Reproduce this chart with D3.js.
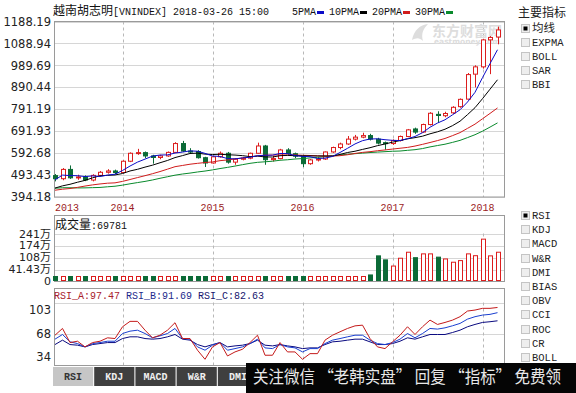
<!DOCTYPE html>
<html><head><meta charset="utf-8">
<script src="https://cdn.jsdelivr.net/npm/d3@7"></script>
<style>body{margin:0;background:#fff}svg{display:block}</style>
</head><body><svg id="c" width="576" height="393"></svg>
<script>
// ---------- DATA ----------
const months = ["2013-04","2013-05","2013-06","2013-07","2013-08","2013-09","2013-10","2013-11","2013-12",
"2014-01","2014-02","2014-03","2014-04","2014-05","2014-06","2014-07","2014-08","2014-09","2014-10","2014-11","2014-12",
"2015-01","2015-02","2015-03","2015-04","2015-05","2015-06","2015-07","2015-08","2015-09","2015-10","2015-11","2015-12",
"2016-01","2016-02","2016-03","2016-04","2016-05","2016-06","2016-07","2016-08","2016-09","2016-10","2016-11","2016-12",
"2017-01","2017-02","2017-03","2017-04","2017-05","2017-06","2017-07","2017-08","2017-09","2017-10","2017-11","2017-12",
"2018-01","2018-02","2018-03"];
const opens  = [491,477,519,481,485,471,492,506,512,505,556,592,595,580,573,580,596,636,602,600,572,548,576,592,552,565,570,592,625,563,568,607,590,579,545,562,566,598,618,634,656,665,672,656,640,636,650,668,702,688,722,768,762,775,803,837,950,983,1105,1118];
const highs  = [498,525,537,495,492,497,512,520,518,560,596,612,600,585,585,600,642,648,615,606,576,580,600,598,570,575,595,640,630,580,612,615,595,582,566,575,600,622,640,670,675,685,680,662,645,655,672,702,708,726,778,782,780,805,840,955,990,1110,1122,1165];
const lows   = [465,470,476,472,466,465,488,500,498,503,552,585,570,545,565,576,594,598,590,568,530,545,572,545,540,560,565,590,540,555,565,585,570,530,540,555,562,594,610,630,650,660,650,632,608,630,645,665,680,685,718,730,755,770,798,835,890,975,950,1085];
const closes = [477,519,481,485,471,492,506,512,505,556,592,595,580,573,580,596,636,602,600,572,548,576,592,552,565,570,592,625,563,568,607,590,579,545,562,566,598,618,634,656,665,672,656,638,636,650,668,698,688,722,773,763,772,800,836,948,983,1105,1116,1150];
const ma5  = [472,493.2,491.2,490.6,486.6,489.6,487,493.2,497.2,514.2,534.2,552,565.6,579.2,584,584.8,593,597.4,602.8,601.2,591.6,579.6,577.6,568,566.6,571,574.2,580.8,583,583.6,591,590.6,581.4,577.8,576.6,568.4,570,577.8,595.6,614.4,634.2,649,656.6,657.4,653.4,650.4,649.6,658,668,685.2,709.8,728.8,743.6,766,788.8,823.8,867.8,934.4,997.6,1060.4];
const ma10 = [434.6,444.6,451.7,461,469.4,480.8,490.1,492.2,493.9,500.4,511.9,519.5,529.4,538.2,549.1,559.5,572.5,581.5,591,592.6,588.2,586.3,587.5,585.4,583.9,581.3,576.9,579.2,575.5,575.1,581,582.4,581.1,580.4,580.1,579.7,580.3,579.6,586.7,595.5,601.3,609.5,617.2,626.5,633.9,642.3,649.3,657.3,662.7,669.3,680.1,689.2,700.8,717,737,766.8,798.3,839,881.8,924.6];
const ma20 = [424.9,429.4,432.5,437.7,443.7,448.9,453.2,456.6,458.2,464.8,473.3,482.1,490.6,499.6,509.3,520.2,531.3,536.9,542.5,546.5,550.1,552.9,558.5,561.8,566.5,570.4,574.7,580.4,583.3,583.9,584.6,584.4,584.3,582.9,582,580.5,578.6,579.4,581.1,585.3,591.2,596,599.2,603.5,607,611,614.8,618.5,624.7,632.4,640.7,649.4,659,671.8,685.5,704.6,723.8,748.2,772.3,797];
const ma30 = [433.9,436.1,436,435.2,435.5,436.5,437.4,440.4,442.9,447.8,453.9,459.4,464.8,471.2,478.8,485.8,492.9,498.2,502.4,507.4,511.6,516.8,522.9,528.2,534.1,540.5,546.5,551,553.5,556,560.4,562.7,566,568,571,573.5,576.6,580.1,584.4,587.7,590.2,592.7,595.3,597.4,599.3,601.1,602.2,605.4,608.3,613.3,620.8,627,633,641.3,650.3,662.9,676,692,710.4,729.4];
// volume in 万
const volumes = [2,2,2,2,2,2,2,2,2,2,2,2,2,2,2,2,2,2,2,2,2,2,2,2,2,2,2,2,2,2,2,2,2,2,2,2,2,2,2,2,2,2,14,119,97,63,106,139,109,130,130,112,102,84,93,130,120,211,119,139];
const rsiA = [66.6,74.1,58.4,59.9,53.6,58.4,59.9,63.7,62.9,76,82,82,72.2,63.7,66.6,72.2,80.5,62.9,62.9,49.9,39.8,53.6,58.4,43.5,48,51,58.4,66.6,44.3,44.3,58.4,48,48,39.8,46.1,46.1,61.1,66.6,70.4,74.1,77,77.8,62.9,53.6,51.7,59.2,66.6,76,67.4,76,83.4,78.6,80.8,83.4,87.2,93.5,94.6,96.5,96.5,97.47];
const rsiB = [62.2,67.4,59.2,57.3,53.6,57.3,58.4,59.9,59.9,68.5,71.1,72.2,68.5,63.7,65.9,68.5,74.1,62.9,62.2,53.6,49.9,55.5,58.4,49.9,51.7,53.6,57.3,62.2,52.5,51.7,56.2,53.6,52.5,48,51.7,51.7,57.3,61.1,62.9,64.8,66.6,66.6,61.1,57.3,56.2,58.4,62.2,68.5,63.7,68.5,74.1,73.4,74.8,77.1,79.7,84.5,87.2,89,89.8,91.69];
const rsiC = [56.2,61.1,56.2,55.5,53.6,56.2,57.3,58.4,58.4,62.9,64.8,64.8,62.9,62.2,62.9,64.8,67.4,62.2,61.1,56.2,53.6,56.2,58.4,53.6,54.7,55.5,57.3,61.1,55.5,54.7,56.2,54.7,53.6,51.7,52.5,52.5,56.2,59.2,59.9,61.1,62.2,62.2,59.2,56.2,56.2,57.3,59.9,63.7,62.2,64.8,67.4,67.4,67.4,69.6,72.2,76,78.6,80.8,81.6,82.63];
const priceTicks = [394.18,493.43,592.68,691.93,791.19,890.44,989.69,1088.94,1188.19];
const volTickLabels = ["241万","174万","108万","41.43万","0"];
const volGridValues = [41.43,108,174,241];
const rsiTicks = [103,68,34];
const yearLabels = ["2013","2014","2015","2016","2017","2018"];
const maNames = ["5PMA","10PMA","20PMA","30PMA"];
const mainIndicators = ["均线","EXPMA","BOLL","SAR","BBI"];
const subIndicators = ["RSI","KDJ","MACD","W&R","DMI","BIAS","OBV","CCI","ROC","CR","BOLL"];
const tabNames = ["RSI","KDJ","MACD","W&R","DMI"];
const titleName = "越南胡志明";
const titleCode = "[VNINDEX] 2018-03-26 15:00";
const volTitle = "成交量", volValue = ":69781";
const rsiTitle = [["RSI_A", 97.47],["RSI_B", 91.69],["RSI_C", 82.63]];
const banner = "关注微信 “老韩实盘” 回复 “指标” 免费领";

// ---------- STYLE ----------
const RED="#dc1d1d", GREEN="#0c6b37";
const maColors=["#0b0bc8","#000000","#d01c1c","#098a2c"];
const rsiColors=["#c41a1a","#1a3fd0","#0a0a80"];
const rsiTitleColors=["#a8202a","#1c2a8c","#15156e"];
const MONO="'Liberation Mono','DejaVu Sans Mono',monospace";
const CJK="'Noto Sans CJK SC',sans-serif";
const NUM="'DejaVu Sans','Noto Sans CJK SC',sans-serif";
const L=54, R=505;

const svg=d3.select('#c');
const x=d3.scaleBand().domain(months).range([51.25,501.25]);
const xc=m=>x(m)+x.bandwidth()/2;
const rx=m=>Math.round(xc(m));
const yearStart=yearLabels.map(y=>months.find(m=>m.startsWith(y)));
const janMonths=yearStart.filter(m=>m.endsWith("-01"));

function panelFrame(top,bottom,gridYs){
  const g=svg.append('g');
  g.selectAll('line.h').data(gridYs).join('line')
    .attr('x1',L).attr('x2',R).attr('y1',d=>Math.round(d)+0.5).attr('y2',d=>Math.round(d)+0.5)
    .attr('stroke','#d6d6d6');
  g.selectAll('line.v').data(janMonths).join('line')
    .attr('x1',d=>rx(d)+0.5).attr('x2',d=>rx(d)+0.5).attr('y1',top).attr('y2',bottom)
    .attr('stroke','#b8b8b8').attr('stroke-dasharray','3,3');
  return g;
}

// ---------- MAIN PANEL ----------
const yP=d3.scaleLinear().domain([394.18,1188.19]).range([197,21.5]);
panelFrame(21.5,197,priceTicks.map(yP));
// watermark
const wm=svg.append('g').attr('fill','#dddddd');
wm.append('path').attr('d','M412,40 C414,30 420,25 428,24 C423,29 421,34 423,41 C419,37 416,38 412,40 Z');
wm.append('text').attr('x',432).attr('y',36).attr('font-family',CJK).attr('font-size',14).attr('font-weight','bold').text('东方财富网');
wm.append('text').attr('x',434).attr('y',44).attr('font-family',"'DejaVu Sans',sans-serif").attr('font-size',7.5).attr('font-weight','bold').text('eastmoney.com');

svg.append('rect').attr('x',L+0.5).attr('y',21.5).attr('width',R-L-1).attr('height',175.5).attr('fill','none').attr('stroke','#9a9a9a');

const ax=svg.append('g').attr('transform',`translate(${L-2},0)`)
  .call(d3.axisLeft(yP).tickValues(priceTicks).tickFormat(d3.format('.2f')).tickSize(0).tickPadding(1));
ax.select('.domain').remove();
ax.selectAll('text').attr('font-family',NUM).attr('font-size',11.5).attr('fill','#222');

const candles=months.map((m,i)=>({m,o:opens[i],h:highs[i],l:lows[i],c:closes[i],v:volumes[i]}));
const cg=svg.append('g');
cg.selectAll('line').data(candles).join('line')
  .attr('x1',d=>rx(d.m)+0.5).attr('x2',d=>rx(d.m)+0.5)
  .attr('y1',d=>yP(d.h)).attr('y2',d=>yP(d.l))
  .attr('stroke',d=>d.c>=d.o?RED:GREEN);
cg.selectAll('rect').data(candles).join('rect')
  .attr('x',d=>rx(d.m)-1.5).attr('width',4)
  .attr('y',d=>yP(Math.max(d.o,d.c)))
  .attr('height',d=>Math.max(1,Math.abs(yP(d.o)-yP(d.c))))
  .attr('fill',d=>d.c>=d.o?'#fff':GREEN)
  .attr('stroke',d=>d.c>=d.o?RED:GREEN);

const maLine=d3.line().x((d,i)=>xc(months[i])).y(d=>yP(d));
[ma30,ma20,ma10,ma5].forEach((arr,k)=>{
  svg.append('path').attr('d',maLine(arr)).attr('fill','none')
    .attr('stroke',maColors[3-k]).attr('stroke-width',1);
});

// header
const ht=svg.append('text').attr('x',53).attr('y',15).attr('fill','#111');
ht.append('tspan').attr('font-family',CJK).attr('font-size',12).text(titleName);
ht.append('tspan').attr('font-family',MONO).attr('font-size',10).text(titleCode);
// legend
let lx=292;
maNames.forEach((n,k)=>{
  svg.append('text').attr('x',lx).attr('y',15).attr('font-family',MONO).attr('font-size',10).attr('fill','#111').text(n);
  const w=n.length*6;
  svg.append('rect').attr('x',lx+w+1).attr('y',11).attr('width',7).attr('height',3).attr('fill',maColors[k]);
  lx+=w+1+7+5;
});

// year labels
svg.selectAll('text.yr').data(yearLabels).join('text')
  .attr('x',(d,i)=>Math.max(xc(yearStart[i]),L+13))
  .attr('y',211).attr('text-anchor','middle')
  .attr('font-family',MONO).attr('font-size',10).attr('fill','#9b1c24').text(d=>d);

// ---------- VOLUME PANEL ----------
const yV=d3.scaleLinear().domain([0,241]).range([277.5,233.7]);
panelFrame(233.5,281.5,volGridValues.map(yV));
svg.append('rect').attr('x',L+0.5).attr('y',215.5).attr('width',R-L-1).attr('height',66).attr('fill','none').attr('stroke','#9a9a9a');
const vt=svg.append('text').attr('x',55).attr('y',229).attr('fill','#111');
vt.append('tspan').attr('font-family',CJK).attr('font-size',12).text(volTitle);
vt.append('tspan').attr('font-family',MONO).attr('font-size',10).text(volValue);
const yVl=d3.scalePoint().domain(volTickLabels).range([233.5,281]);
const av=svg.append('g').attr('transform',`translate(${L-2},0)`).call(d3.axisLeft(yVl).tickSize(0).tickPadding(1));
av.select('.domain').remove();
av.selectAll('text').attr('font-family',NUM).attr('font-size',11).attr('fill','#222');
svg.append('g').selectAll('rect').data(candles).join('rect')
  .attr('x',d=>rx(d.m)-1.5).attr('width',4)
  .attr('y',d=>Math.min(yV(d.v),276.5)).attr('height',d=>280.5-Math.min(yV(d.v),276.5))
  .attr('fill',d=>d.c>=d.o?'#fff':GREEN)
  .attr('stroke',d=>d.c>=d.o?RED:GREEN);

// ---------- RSI PANEL ----------
const yR=d3.scaleLinear().domain([34,103]).range([364.5,302.5]);
panelFrame(302.5,365,[yR(68),yR(103)]);
svg.append('rect').attr('x',L+0.5).attr('y',288.5).attr('width',R-L-1).attr('height',77).attr('fill','none').attr('stroke','#9a9a9a');
const rt=svg.append('text').attr('x',54).attr('y',299).attr('font-family',MONO).attr('font-size',10);
rsiTitle.forEach((t,k)=>{
  rt.append('tspan').attr('fill',rsiTitleColors[k]).text((k?' ':'')+t[0]+':'+t[1].toFixed(2));
});
const ar=svg.append('g').attr('transform',`translate(${L-2},0)`).call(d3.axisLeft(yR).tickValues(rsiTicks).tickSize(0).tickPadding(1));
ar.select('.domain').remove();
ar.selectAll('.tick').attr('transform',d=>`translate(0,${Math.min(Math.max(yR(d),310),357)})`);
ar.selectAll('text').attr('font-family',NUM).attr('font-size',11.5).attr('fill','#222');
const rsiLine=d3.line().x((d,i)=>xc(months[i])).y(d=>yR(d));
[rsiC,rsiB,rsiA].forEach((arr,k)=>{
  svg.append('path').attr('d',rsiLine(arr)).attr('fill','none').attr('stroke',rsiColors[2-k]).attr('stroke-width',1);
});

// tabs
const tabX=d3.scaleBand().domain(tabNames).range([53,258]).paddingInner(0.025);
const tg=svg.append('g');
tg.selectAll('rect').data(tabNames).join('rect')
  .attr('x',d=>tabX(d)).attr('y',367).attr('width',tabX.bandwidth()).attr('height',19)
  .attr('fill',(d,i)=>i===0?'#c6c6c6':'#3f3f3f');
tg.selectAll('text').data(tabNames).join('text')
  .attr('x',d=>tabX(d)+tabX.bandwidth()/2).attr('y',380).attr('text-anchor','middle')
  .attr('font-family',MONO).attr('font-size',10).attr('font-weight','bold')
  .attr('fill',(d,i)=>i===0?'#333':'#f0f0f0').text(d=>d);

// ---------- RIGHT LIST ----------
svg.append('text').attr('x',518).attr('y',17).attr('font-family',CJK).attr('font-size',12).attr('fill','#222').text('主要指标');
function checkList(items,y0,step,checkedIdx){
  const g=svg.append('g');
  items.forEach((n,i)=>{
    const cy=y0+i*step;
    g.append('rect').attr('x',521.5).attr('y',Math.round(cy-4)+0.5).attr('width',8).attr('height',8).attr('fill','#eeeeee').attr('stroke','#c4c4c4');
    if(i===checkedIdx) g.append('rect').attr('x',523.5).attr('y',Math.round(cy-4)+2.5).attr('width',4).attr('height',4).attr('fill','#000');
    const cjk=/[\u4e00-\u9fff]/.test(n);
    g.append('text').attr('x',532).attr('y',cy+4).attr('font-family',cjk?CJK:MONO).attr('font-size',cjk?11.5:10.5).attr('fill','#222').text(n);
  });
}
checkList(mainIndicators,28,14,0);
checkList(subIndicators,215,14.2,0);

// ---------- BANNER ----------
svg.append('rect').attr('x',246).attr('y',363).attr('width',330).attr('height',30).attr('fill','#050505');
svg.append('text').attr('x',253).attr('y',383).attr('font-family',CJK).attr('font-size',17)
  .attr('fill','#e8e8e8').attr('textLength',308).attr('lengthAdjust','spacingAndGlyphs').text(banner);
</script></body></html>
